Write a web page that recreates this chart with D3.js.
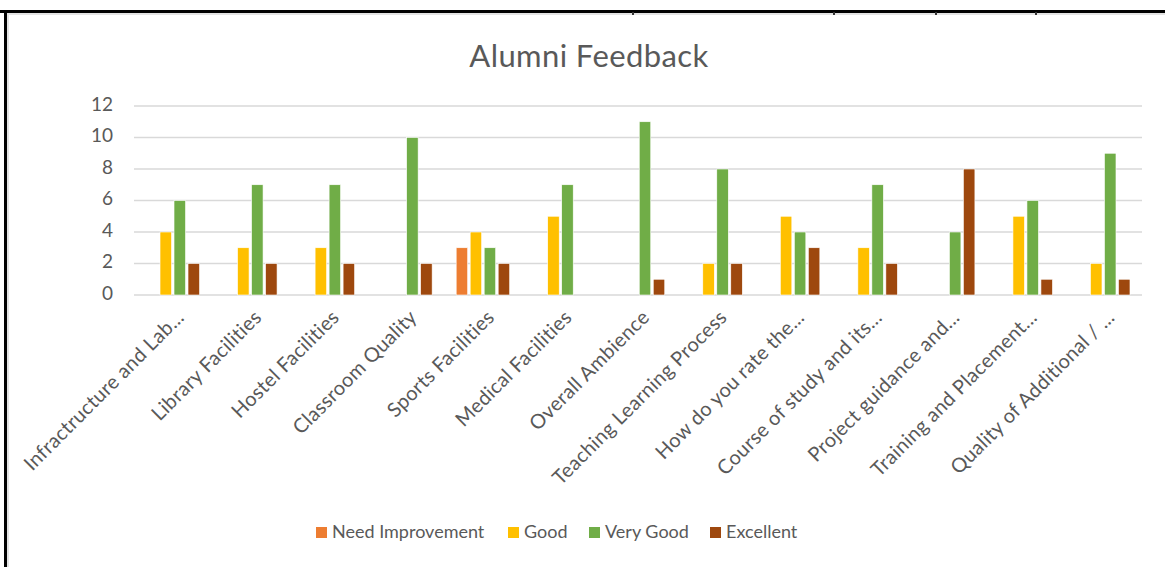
<!DOCTYPE html>
<html>
<head>
<meta charset="utf-8">
<script src="https://cdn.jsdelivr.net/npm/d3@7"></script>
<style>
  body { margin: 0; background: #fff; }
  text { font-family: Lato, "Open Sans", sans-serif; fill: #595959; }
</style>
</head>
<body>
<div class="chart-wrapper"></div>
<script>
const categories = ['Infractructure and Lab...', 'Library Facilities', 'Hostel Facilities', 'Classroom Quality',
  'Sports Facilities', 'Medical Facilities', 'Overall Ambience', 'Teaching Learning Process',
  'How do you rate the...', 'Course of study and its...', 'Project guidance and...',
  'Training and Placement...', 'Quality of Additional / ...']
const seriesNames = ['Need Improvement', 'Good', 'Very Good', 'Excellent']
const needImprovement = [0, 0, 0, 0, 3, 0, 0, 0, 0, 0, 0, 0, 0]
const good = [4, 3, 3, 0, 4, 5, 0, 2, 5, 3, 0, 5, 2]
const veryGood = [6, 7, 7, 10, 3, 7, 11, 8, 4, 7, 4, 6, 9]
const excellent = [2, 2, 2, 2, 2, 0, 1, 2, 3, 2, 8, 1, 1]
const yTicks = [0, 2, 4, 6, 8, 10, 12]

const colors = ['#ED7D31', '#FFC000', '#70AD47', '#9E480E']
const series = [needImprovement, good, veryGood, excellent]

const width = 1165, height = 567
const plot = { left: 134, right: 1142, top: 106, bottom: 295 }

const svg = d3.select('.chart-wrapper').append('svg')
  .attr('width', width)
  .attr('height', height)

// page frame lines
svg.append('rect').attr('x', 0).attr('y', 10).attr('width', width).attr('height', 3).attr('fill', '#000')
svg.append('rect').attr('x', 4).attr('y', 10).attr('width', 3).attr('height', height - 10).attr('fill', '#000')
svg.append('rect').attr('x', 7).attr('y', 13).attr('width', width).attr('height', 2).attr('fill', '#e3e3e3')
svg.append('rect').attr('x', 7).attr('y', 13).attr('width', 2).attr('height', height).attr('fill', '#e3e3e3')
;[632, 833, 935, 1035].forEach(x => {
  svg.append('rect').attr('x', x).attr('y', 12).attr('width', 2).attr('height', 3).attr('fill', '#333')
})

svg.append('text')
  .attr('x', 589).attr('y', 67)
  .attr('text-anchor', 'middle')
  .style('font-size', '31px')
  .style('letter-spacing', '0.4px')
  .text('Alumni Feedback')

let x = d3.scaleBand()
  .domain(categories)
  .range([plot.left, plot.right])

let y = d3.scaleLinear()
  .domain([0, 12])
  .range([plot.bottom, plot.top])

// gridlines
svg.append('g')
  .selectAll('line')
  .data(yTicks)
  .enter()
  .append('line')
  .attr('x1', plot.left).attr('x2', plot.right)
  .attr('y1', d => y(d)).attr('y2', d => y(d))
  .attr('stroke', '#d9d9d9')
  .attr('stroke-width', 1.5)

svg.append('g')
  .selectAll('text')
  .data(yTicks)
  .enter()
  .append('text')
  .attr('x', 113).attr('y', d => y(d))
  .attr('text-anchor', 'end')
  .attr('dominant-baseline', 'middle')
  .style('font-size', '19px')
  .text(d => d)

const barW = 11.5, step = 14
series.forEach((vals, si) => {
  svg.append('g')
    .selectAll('rect')
    .data(vals.map((v, i) => ({ v, c: categories[i] })).filter(d => d.v > 0))
    .enter()
    .append('rect')
    .attr('x', d => x(d.c) + x.bandwidth() / 2 + (si - 1.5) * step - barW / 2)
    .attr('y', d => y(d.v))
    .attr('width', barW)
    .attr('height', d => y(0) - y(d.v))
    .attr('fill', colors[si])
    .attr('stroke', '#fff')
    .attr('stroke-width', 0.6)
})

// category labels
svg.append('g')
  .selectAll('text')
  .data(categories)
  .enter()
  .append('text')
  .attr('transform', d => `translate(${x(d) + x.bandwidth() / 2 + 9},${plot.bottom + 20}) rotate(-45)`)
  .attr('text-anchor', 'end')
  .attr('dominant-baseline', 'middle')
  .style('font-size', '20px')
  .style('letter-spacing', '0.3px')
  .text(d => d)

// legend
const legendX = [316, 508, 589, 710]
const legend = svg.append('g')
  .selectAll('g')
  .data(seriesNames)
  .enter()
  .append('g')
  .attr('transform', (d, i) => `translate(${legendX[i]},527)`)

legend.append('rect')
  .attr('width', 11).attr('height', 11)
  .attr('fill', (d, i) => colors[i])

legend.append('text')
  .attr('x', 16).attr('y', 6)
  .attr('dominant-baseline', 'middle')
  .style('font-size', '18px')
  .text(d => d)
</script>
</body>
</html>
